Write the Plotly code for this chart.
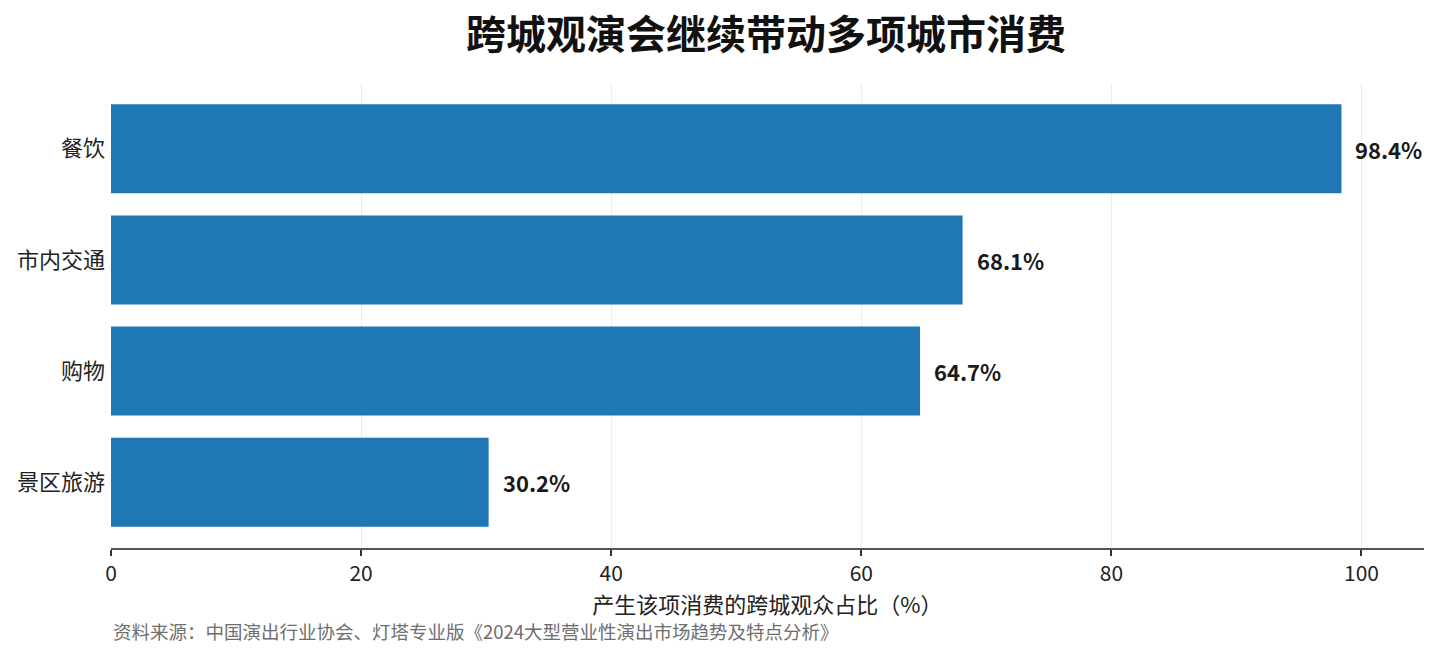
# 跨城观演会继续带动多项城市消费 - horizontal bar chart
import plotly.graph_objects as go

# data
categories = ["餐饮", "市内交通", "购物", "景区旅游"]
shares = [98.4, 68.1, 64.7, 30.2]
xTicks = [0, 20, 40, 60, 80, 100]

title = "跨城观演会继续带动多项城市消费"
xLabel = "产生该项消费的跨城观众占比（%）"
source = "资料来源：中国演出行业协会、灯塔专业版《2024大型营业性演出市场趋势及特点分析》"

fontName = "Noto Sans CJK SC"
barColor = "#1f77b4"

fig = go.Figure()
fig.add_trace(go.Bar(
    x=shares,
    y=categories,
    orientation="h",
    width=0.8,
    marker=dict(color=barColor, line=dict(width=0)),
    hoverinfo="x+y",
))

# value labels to the right of every bar
for c, v in zip(categories, shares):
    fig.add_annotation(
        x=v, y=c, xref="x", yref="y",
        text="<b>%.1f%%</b>" % v,
        showarrow=False, xanchor="left", xshift=12,
        font=dict(family=fontName, size=22, color="#1a1a1a"),
    )

# source note under the axis title
fig.add_annotation(
    x=0, y=0, xref="paper", yref="paper",
    text=source, showarrow=False,
    xanchor="left", yanchor="top", yshift=-68,
    font=dict(family=fontName, size=18.5, color="#6e6e6e"),
)

# page body has an 8px margin, so the figure is a bit smaller than the window
fig.update_layout(
    width=1422, height=635,
    margin=dict(l=103, r=6, t=75, b=95),
    paper_bgcolor="white",
    plot_bgcolor="white",
    showlegend=False,
    font=dict(family=fontName, color="#222222"),
    title=dict(
        text="<b>" + title + "</b>",
        x=0.533, xanchor="center", y=0.957, yanchor="middle",
        font=dict(family=fontName, size=40, color="#111111"),
    ),
    xaxis=dict(
        range=[0, 105],
        tickvals=xTicks,
        ticks="outside", ticklen=6, tickwidth=1.5, tickcolor="#333333",
        showline=True, linecolor="#555555", linewidth=2,
        showgrid=True, gridcolor="#ececec", gridwidth=1,
        zeroline=False,
        tickfont=dict(family=fontName, size=21, color="#222222"),
        title=dict(text=xLabel, standoff=11,
                   font=dict(family=fontName, size=22, color="#222222")),
    ),
    yaxis=dict(
        categoryorder="array", categoryarray=categories,
        autorange=False, range=[3.59, -0.59],
        showline=False, showgrid=False, zeroline=False,
        ticks="", ticklabelstandoff=5,
        tickfont=dict(family=fontName, size=22, color="#222222"),
    ),
)

fig.write_html("out.html")
